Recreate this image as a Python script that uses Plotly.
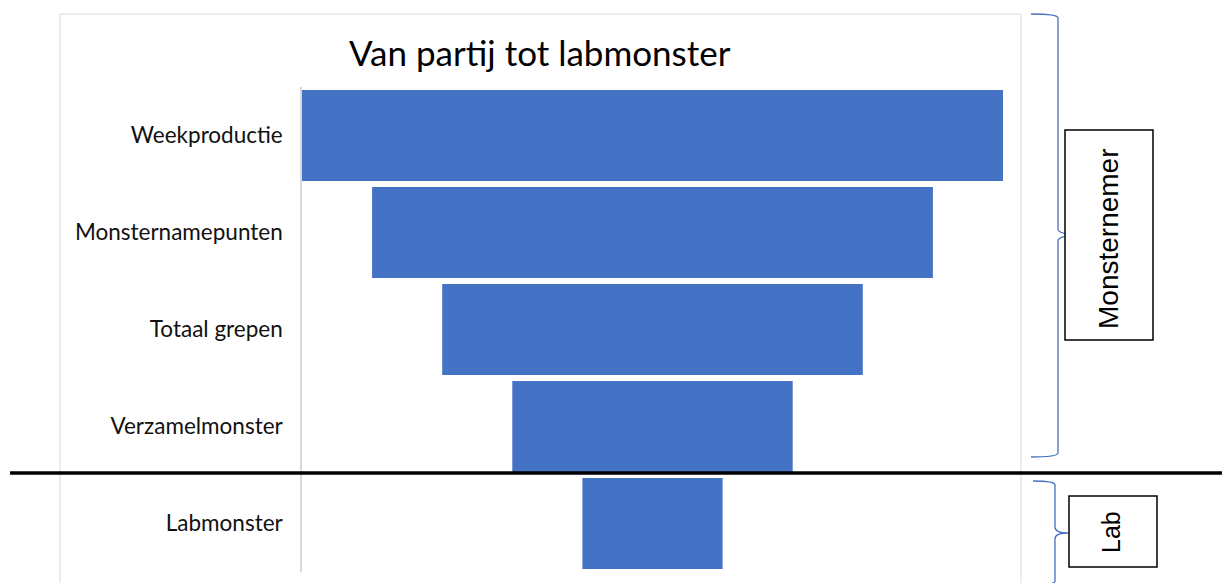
import plotly.graph_objects as go

categories = ["Weekproductie", "Monsternamepunten", "Totaal grepen", "Verzamelmonster", "Labmonster"]
values = [5, 4, 3, 2, 1]
title_text = "Van partij tot labmonster"
group_labels = ["Monsternemer", "Lab"]

W, H = 1222, 583
def px(x):
    return x / W
def py(y):
    return 1 - y / H

bar_color = "#4472C4"

fig = go.Figure()
fig.add_trace(go.Bar(
    y=categories,
    x=values,
    base=[-v / 2 for v in values],
    orientation="h",
    marker=dict(color=bar_color, line=dict(width=0)),
    hoverinfo="y+x",
))

font_main = "Lato, 'Open Sans', sans-serif"

fig.update_layout(
    width=W, height=H,
    margin=dict(l=0, r=0, t=0, b=0),
    paper_bgcolor="white", plot_bgcolor="white",
    showlegend=False,
    bargap=0.06,
    xaxis=dict(domain=[px(302), px(1003)], range=[-2.5, 2.5], visible=False, fixedrange=True),
    yaxis=dict(domain=[11 / H, 1 - 87 / H], autorange="reversed", showline=True,
               linecolor="#d9d9d9", linewidth=1.5, showgrid=False, zeroline=False,
               ticks="", ticklabelstandoff=13, fixedrange=True,
               tickfont=dict(family=font_main, size=22.5, color="#111111")),
)

shapes = []
# chart frame
shapes.append(dict(type="rect", xref="paper", yref="paper", x0=px(60), x1=px(1021), y0=-0.05, y1=py(14),
                   line=dict(color="#d9d9d9", width=1), fillcolor="rgba(0,0,0,0)", layer="below"))
# separator line
shapes.append(dict(type="line", xref="paper", yref="paper", x0=px(10), x1=1.0, y0=py(473), y1=py(473),
                   line=dict(color="black", width=3.5)))

def brace(x0, xs, xt, ytop, ytip, ybot):
    pts = (f"M {px(x0)},{py(ytop)} Q {px(xs)},{py(ytop)} {px(xs)},{py(ytop+4)} "
           f"L {px(xs)},{py(ytip-6)} Q {px(xs)},{py(ytip)} {px(xt)},{py(ytip)} "
           f"Q {px(xs)},{py(ytip)} {px(xs)},{py(ytip+6)} "
           f"L {px(xs)},{py(ybot-4)} Q {px(xs)},{py(ybot)} {px(x0)},{py(ybot)}")
    return dict(type="path", xref="paper", yref="paper", path=pts,
                line=dict(color="#4472C4", width=1.3))

shapes.append(brace(1031, 1058, 1085, 14, 235, 457))
shapes.append(brace(1033, 1055, 1068, 481, 533, 585))

# boxes
shapes.append(dict(type="rect", xref="paper", yref="paper", x0=px(1065), x1=px(1153), y0=py(340), y1=py(130),
                   line=dict(color="black", width=1.5), fillcolor="white"))
shapes.append(dict(type="rect", xref="paper", yref="paper", x0=px(1069), x1=px(1157), y0=py(567), y1=py(496),
                   line=dict(color="black", width=1.5), fillcolor="white"))

fig.update_layout(shapes=shapes)

annotations = [
    dict(text=title_text, xref="paper", yref="paper", x=px(540), y=py(52), showarrow=False,
         xanchor="center", yanchor="middle", font=dict(family=font_main, size=35, color="black")),
    dict(text=group_labels[0], xref="paper", yref="paper", x=px(1109), y=py(239), showarrow=False,
         textangle=-90, xanchor="center", yanchor="middle",
         font=dict(family="'Liberation Sans', Arial, sans-serif", size=28, color="black")),
    dict(text=group_labels[1], xref="paper", yref="paper", x=px(1111), y=py(532), showarrow=False,
         textangle=-90, xanchor="center", yanchor="middle",
         font=dict(family="'Liberation Sans', Arial, sans-serif", size=25, color="black")),
]
fig.update_layout(annotations=annotations)

fig.write_html("out.html", config={"displayModeBar": False},
               post_script="document.body.style.margin='0px';document.body.style.overflow='hidden';")
